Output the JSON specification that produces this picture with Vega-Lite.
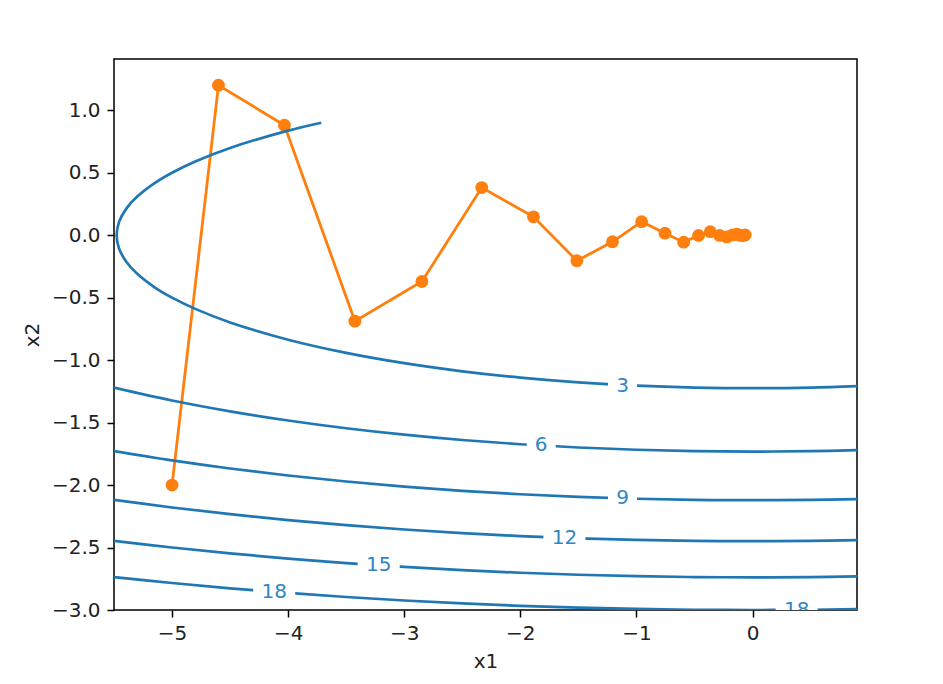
{
  "$schema": "https://vega.github.io/schema/vega-lite/v6.json",
  "autosize": {"type": "none"},
  "padding": {"left": 114, "top": 59, "right": 86, "bottom": 74},
  "width": 743,
  "height": 551,
  "background": "white",
  "config": {
    "view": {"stroke": "black", "strokeWidth": 1.5},
    "font": "DejaVu Sans",
    "axis": {
      "domain": false,
      "grid": false,
      "ticks": true,
      "tickColor": "black",
      "tickSize": 7,
      "tickWidth": 1.5,
      "labelColor": "#222222",
      "labelFontSize": 20,
      "labelFont": "DejaVu Sans",
      "titleColor": "#222222",
      "titleFontSize": 20,
      "titleFont": "DejaVu Sans",
      "titleFontWeight": "normal"
    }
  },
  "datasets": {
    "contours": [
      {"level": 3, "i": 0, "x1": 0.9, "x2": -1.2081},
      {"level": 3, "i": 1, "x1": 0.5, "x2": -1.2196},
      {"level": 3, "i": 2, "x1": 0, "x2": -1.2247},
      {"level": 3, "i": 3, "x1": -0.5, "x2": -1.2196},
      {"level": 3, "i": 4, "x1": -1, "x2": -1.2042},
      {"level": 3, "i": 5, "x1": -1.5, "x2": -1.1779},
      {"level": 3, "i": 6, "x1": -2, "x2": -1.1402},
      {"level": 3, "i": 7, "x1": -2.5, "x2": -1.0897},
      {"level": 3, "i": 8, "x1": -3, "x2": -1.0247},
      {"level": 3, "i": 9, "x1": -3.5, "x2": -0.9421},
      {"level": 3, "i": 10, "x1": -4, "x2": -0.8367},
      {"level": 3, "i": 11, "x1": -4.5, "x2": -0.6982},
      {"level": 3, "i": 12, "x1": -4.8, "x2": -0.5899},
      {"level": 3, "i": 13, "x1": -5, "x2": -0.5},
      {"level": 3, "i": 14, "x1": -5.147, "x2": -0.4189},
      {"level": 3, "i": 15, "x1": -5.3, "x2": -0.309},
      {"level": 3, "i": 16, "x1": -5.394, "x2": -0.2127},
      {"level": 3, "i": 17, "x1": -5.4564, "x2": -0.1067},
      {"level": 3, "i": 18, "x1": -5.4772, "x2": 0},
      {"level": 3, "i": 19, "x1": -5.4564, "x2": 0.1067},
      {"level": 3, "i": 20, "x1": -5.394, "x2": 0.2127},
      {"level": 3, "i": 21, "x1": -5.3, "x2": 0.309},
      {"level": 3, "i": 22, "x1": -5.147, "x2": 0.4189},
      {"level": 3, "i": 23, "x1": -5, "x2": 0.5},
      {"level": 3, "i": 24, "x1": -4.8, "x2": 0.5899},
      {"level": 3, "i": 25, "x1": -4.5, "x2": 0.6982},
      {"level": 3, "i": 26, "x1": -4, "x2": 0.8367},
      {"level": 3, "i": 27, "x1": -3.715, "x2": 0.9},

      {"level": 6, "i": 0, "x1": 0.9, "x2": -1.7203},
      {"level": 6, "i": 1, "x1": 0.5, "x2": -1.7284},
      {"level": 6, "i": 2, "x1": 0, "x2": -1.7321},
      {"level": 6, "i": 3, "x1": -0.5, "x2": -1.7284},
      {"level": 6, "i": 4, "x1": -1, "x2": -1.7176},
      {"level": 6, "i": 5, "x1": -1.5, "x2": -1.6993},
      {"level": 6, "i": 6, "x1": -2, "x2": -1.6733},
      {"level": 6, "i": 7, "x1": -2.5, "x2": -1.6394},
      {"level": 6, "i": 8, "x1": -3, "x2": -1.5969},
      {"level": 6, "i": 9, "x1": -3.5, "x2": -1.5452},
      {"level": 6, "i": 10, "x1": -4, "x2": -1.4832},
      {"level": 6, "i": 11, "x1": -4.5, "x2": -1.4098},
      {"level": 6, "i": 12, "x1": -5, "x2": -1.3229},
      {"level": 6, "i": 13, "x1": -5.5, "x2": -1.2196},

      {"level": 9, "i": 0, "x1": 0.9, "x2": -2.1118},
      {"level": 9, "i": 1, "x1": 0.5, "x2": -2.1184},
      {"level": 9, "i": 2, "x1": 0, "x2": -2.1213},
      {"level": 9, "i": 3, "x1": -0.5, "x2": -2.1184},
      {"level": 9, "i": 4, "x1": -1, "x2": -2.1095},
      {"level": 9, "i": 5, "x1": -1.5, "x2": -2.0946},
      {"level": 9, "i": 6, "x1": -2, "x2": -2.0736},
      {"level": 9, "i": 7, "x1": -2.5, "x2": -2.0463},
      {"level": 9, "i": 8, "x1": -3, "x2": -2.0125},
      {"level": 9, "i": 9, "x1": -3.5, "x2": -1.9717},
      {"level": 9, "i": 10, "x1": -4, "x2": -1.9235},
      {"level": 9, "i": 11, "x1": -4.5, "x2": -1.8675},
      {"level": 9, "i": 12, "x1": -5, "x2": -1.8028},
      {"level": 9, "i": 13, "x1": -5.5, "x2": -1.7284},

      {"level": 12, "i": 0, "x1": 0.9, "x2": -2.4412},
      {"level": 12, "i": 1, "x1": 0.5, "x2": -2.4469},
      {"level": 12, "i": 2, "x1": 0, "x2": -2.4495},
      {"level": 12, "i": 3, "x1": -0.5, "x2": -2.4469},
      {"level": 12, "i": 4, "x1": -1, "x2": -2.4393},
      {"level": 12, "i": 5, "x1": -1.5, "x2": -2.4264},
      {"level": 12, "i": 6, "x1": -2, "x2": -2.4083},
      {"level": 12, "i": 7, "x1": -2.5, "x2": -2.3848},
      {"level": 12, "i": 8, "x1": -3, "x2": -2.3558},
      {"level": 12, "i": 9, "x1": -3.5, "x2": -2.3211},
      {"level": 12, "i": 10, "x1": -4, "x2": -2.2804},
      {"level": 12, "i": 11, "x1": -4.5, "x2": -2.2333},
      {"level": 12, "i": 12, "x1": -5, "x2": -2.1794},
      {"level": 12, "i": 13, "x1": -5.5, "x2": -2.1184},

      {"level": 15, "i": 0, "x1": 0.9, "x2": -2.7312},
      {"level": 15, "i": 1, "x1": 0.5, "x2": -2.7363},
      {"level": 15, "i": 2, "x1": 0, "x2": -2.7386},
      {"level": 15, "i": 3, "x1": -0.5, "x2": -2.7363},
      {"level": 15, "i": 4, "x1": -1, "x2": -2.7295},
      {"level": 15, "i": 5, "x1": -1.5, "x2": -2.718},
      {"level": 15, "i": 6, "x1": -2, "x2": -2.7019},
      {"level": 15, "i": 7, "x1": -2.5, "x2": -2.681},
      {"level": 15, "i": 8, "x1": -3, "x2": -2.6552},
      {"level": 15, "i": 9, "x1": -3.5, "x2": -2.6244},
      {"level": 15, "i": 10, "x1": -4, "x2": -2.5884},
      {"level": 15, "i": 11, "x1": -4.5, "x2": -2.5471},
      {"level": 15, "i": 12, "x1": -5, "x2": -2.5},
      {"level": 15, "i": 13, "x1": -5.5, "x2": -2.4469},

      {"level": 18, "i": 0, "x1": 0.9, "x2": -2.9932},
      {"level": 18, "i": 1, "x1": 0.5, "x2": -2.9979},
      {"level": 18, "i": 2, "x1": 0, "x2": -3.0},
      {"level": 18, "i": 3, "x1": -0.5, "x2": -2.9979},
      {"level": 18, "i": 4, "x1": -1, "x2": -2.9917},
      {"level": 18, "i": 5, "x1": -1.5, "x2": -2.9812},
      {"level": 18, "i": 6, "x1": -2, "x2": -2.9665},
      {"level": 18, "i": 7, "x1": -2.5, "x2": -2.9475},
      {"level": 18, "i": 8, "x1": -3, "x2": -2.924},
      {"level": 18, "i": 9, "x1": -3.5, "x2": -2.8961},
      {"level": 18, "i": 10, "x1": -4, "x2": -2.8636},
      {"level": 18, "i": 11, "x1": -4.5, "x2": -2.8262},
      {"level": 18, "i": 12, "x1": -5, "x2": -2.7839},
      {"level": 18, "i": 13, "x1": -5.5, "x2": -2.7363}
    ],
    "labels": [
      {"label": "3", "x1": -1.12, "x2": -1.205},
      {"label": "6", "x1": -1.82, "x2": -1.68},
      {"label": "9", "x1": -1.12, "x2": -2.105},
      {"label": "12", "x1": -1.62, "x2": -2.425},
      {"label": "15", "x1": -3.22, "x2": -2.642},
      {"label": "18", "x1": -4.12, "x2": -2.857},
      {"label": "18", "x1": 0.38, "x2": -2.998}
    ],
    "trace": [
      {"step": 0, "x1": -5.0, "x2": -2.0},
      {"step": 1, "x1": -4.6, "x2": 1.2},
      {"step": 2, "x1": -4.032, "x2": 0.88},
      {"step": 3, "x1": -3.425, "x2": -0.688},
      {"step": 4, "x1": -2.848, "x2": -0.371},
      {"step": 5, "x1": -2.332, "x2": 0.381},
      {"step": 6, "x1": -1.887, "x2": 0.147},
      {"step": 7, "x1": -1.513, "x2": -0.205},
      {"step": 8, "x1": -1.206, "x2": -0.053},
      {"step": 9, "x1": -0.955, "x2": 0.108},
      {"step": 10, "x1": -0.754, "x2": 0.016},
      {"step": 11, "x1": -0.593, "x2": -0.056},
      {"step": 12, "x1": -0.465, "x2": -0.002},
      {"step": 13, "x1": -0.364, "x2": 0.028},
      {"step": 14, "x1": -0.284, "x2": -0.002},
      {"step": 15, "x1": -0.221, "x2": -0.014},
      {"step": 16, "x1": -0.172, "x2": 0.002},
      {"step": 17, "x1": -0.134, "x2": 0.007},
      {"step": 18, "x1": -0.104, "x2": -0.002},
      {"step": 19, "x1": -0.081, "x2": -0.003},
      {"step": 20, "x1": -0.063, "x2": 0.001}
    ]
  },
  "encoding": {
    "x": {
      "field": "x1",
      "type": "quantitative",
      "title": "x1",
      "scale": {"domain": [-5.5, 0.9], "nice": false, "zero": false},
      "axis": {"values": [-5, -4, -3, -2, -1, 0], "format": "d", "labelPadding": 6, "titlePadding": 8}
    },
    "y": {
      "field": "x2",
      "type": "quantitative",
      "title": "x2",
      "scale": {"domain": [-3.0, 1.41], "nice": false, "zero": false},
      "axis": {"values": [-3.0, -2.5, -2.0, -1.5, -1.0, -0.5, 0.0, 0.5, 1.0], "format": ".1f", "labelPadding": 7, "titlePadding": 9}
    }
  },
  "layer": [
    {
      "data": {"name": "trace"},
      "mark": {"type": "line", "color": "#ff7f0e", "strokeWidth": 2.8, "clip": true,
               "point": {"filled": true, "size": 165, "color": "#ff7f0e", "opacity": 1}},
      "encoding": {"order": {"field": "step", "type": "quantitative"}}
    },
    {
      "data": {"name": "contours"},
      "mark": {"type": "line", "color": "#1f77b4", "strokeWidth": 2.7, "interpolate": "catmull-rom", "clip": true},
      "encoding": {
        "detail": {"field": "level", "type": "nominal"},
        "order": {"field": "i", "type": "quantitative"}
      }
    },
    {
      "data": {"name": "labels"},
      "transform": [{"filter": "length(datum.label) == 1"}],
      "mark": {"type": "point", "shape": "M-1,-0.35H1V0.35H-1Z", "filled": true, "fill": "white", "stroke": null, "opacity": 1, "size": 841, "clip": true}
    },
    {
      "data": {"name": "labels"},
      "transform": [{"filter": "length(datum.label) == 2"}],
      "mark": {"type": "point", "shape": "M-1,-0.3H1V0.3H-1Z", "filled": true, "fill": "white", "stroke": null, "opacity": 1, "size": 1764, "clip": true}
    },
    {
      "data": {"name": "labels"},
      "mark": {"type": "text", "color": "#2f86c2", "fontSize": 20, "font": "DejaVu Sans", "align": "center", "baseline": "middle", "clip": true},
      "encoding": {"text": {"field": "label", "type": "nominal"}}
    }
  ]
}
